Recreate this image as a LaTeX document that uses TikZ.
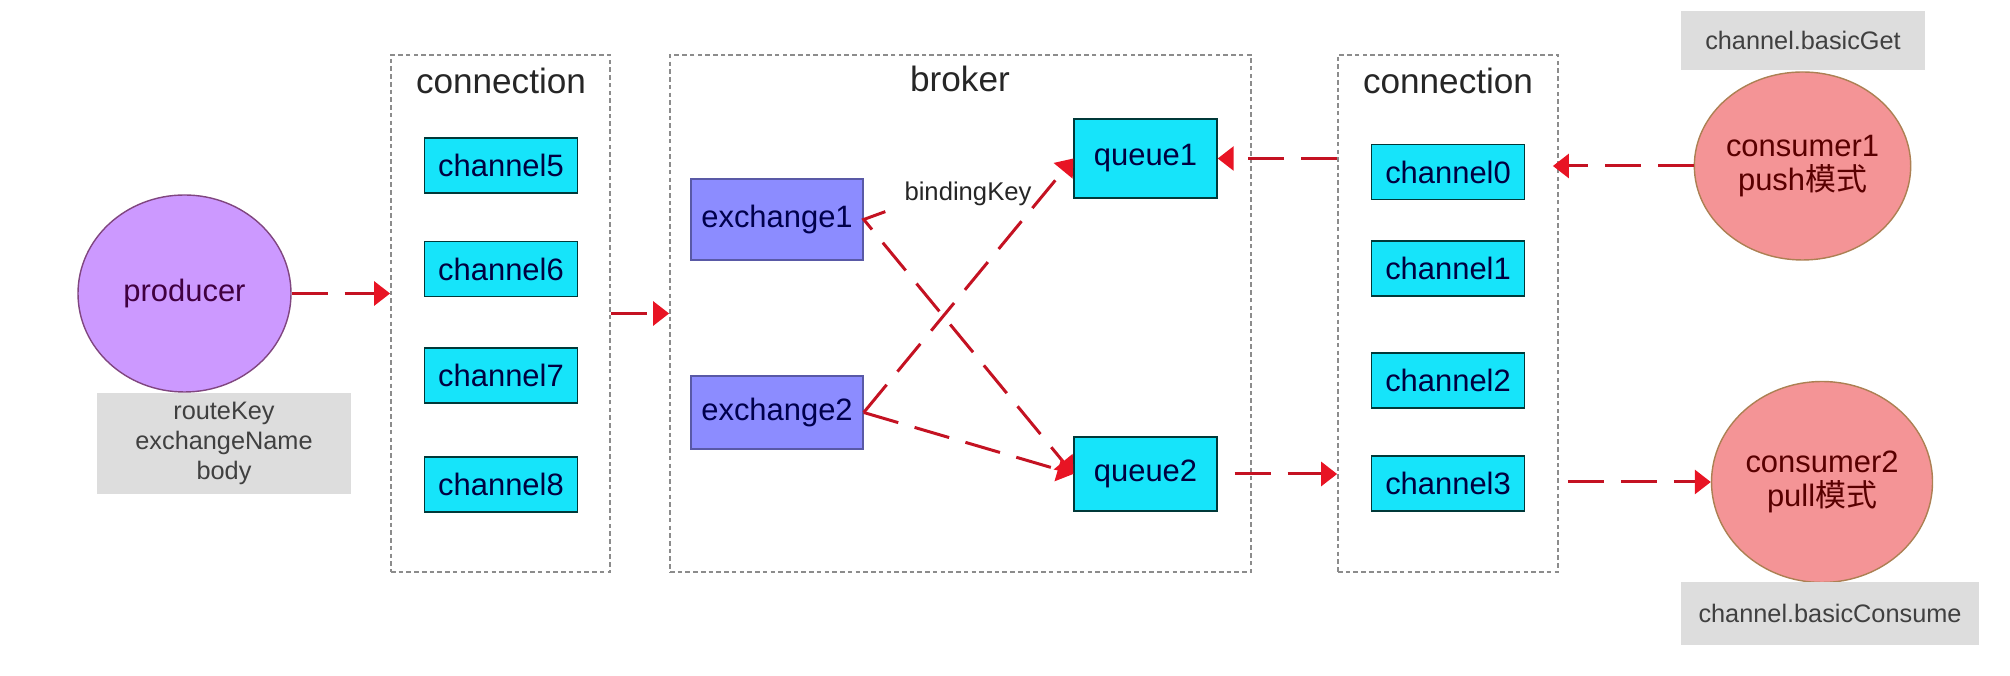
\documentclass[tikz,border=0pt]{standalone}
\definecolor{chancyan}{RGB}{22, 228, 250}
\definecolor{exblue}{RGB}{140, 140, 255}
\definecolor{prodpurple}{RGB}{204, 153, 255}
\definecolor{conspink}{RGB}{244, 148, 150}
\definecolor{flowred}{RGB}{196, 18, 34}
\definecolor{tipred}{RGB}{232, 20, 36}
\definecolor{notegray}{RGB}{221, 221, 221}
\usepackage{fontspec}
\setmainfont{Liberation Sans}
\newfontfamily\cjk{Noto Sans CJK SC}
\usepackage{tikz}
\usetikzlibrary{shapes.geometric, arrows.meta, positioning, calc}

\begin{document}
\begin{tikzpicture}[
  groupbox/.style={draw=black!45, dash pattern=on 1.3pt off 0.9pt, line width=0.5pt, inner sep=0pt, minimum height=5.17cm},
  grouptitle/.style={font=\fontsize{10}{12}\selectfont, text=black!85},
  chanbox/.style={draw=teal!45!black, fill=chancyan, minimum width=1.53cm, minimum height=0.55cm, inner sep=0pt, font=\fontsize{8.8}{10}\selectfont, text=black!75!blue},
  exbox/.style={draw=blue!30!gray, fill=exblue, minimum width=1.72cm, inner sep=0pt, font=\fontsize{8.8}{10}\selectfont, text=blue!30!black},
  notebox/.style={fill=notegray, inner sep=0pt, align=center, text=black!75},
  flow/.style={draw=flowred, line width=0.85pt, dash pattern=on 0.36cm off 0.17cm, -{Triangle[length=1.6mm, width=2.4mm, color=tipred]}}
]
  \useasboundingbox (0, 0) rectangle (20.1, 6.76);

  % Producer side
  \node[ellipse, draw=violet!45!gray, fill=prodpurple, minimum width=2.13cm, minimum height=1.97cm, inner sep=0pt, font=\fontsize{8.8}{10}\selectfont, text=violet!50!black] (producer) at (1.845, 3.825) {producer};
  \node[notebox, minimum width=2.54cm, minimum height=1.01cm, font=\fontsize{7.2}{8.5}\selectfont] (prodnote) at (2.24, 2.325) {routeKey\\exchangeName\\body};

  % Producer connection
  \node[groupbox, minimum width=2.19cm] (conn1) at (5.005, 3.625) {};
  \node[grouptitle] (conn1title) at (5.01, 5.95) {connection};
  \node[chanbox] (channel5) at (5.01, 5.105) {channel5};
  \node[chanbox] (channel6) at (5.01, 4.07) {channel6};
  \node[chanbox] (channel7) at (5.01, 3.005) {channel7};
  \node[chanbox] (channel8) at (5.01, 1.915) {channel8};

  % Broker
  \node[groupbox, minimum width=5.81cm] (broker) at (9.605, 3.625) {};
  \node[grouptitle] (brokertitle) at (9.6, 5.97) {broker};
  \node[exbox, minimum height=0.81cm] (exchange1) at (7.77, 4.565) {exchange1};
  \node[exbox, minimum height=0.73cm] (exchange2) at (7.77, 2.635) {exchange2};
  \node[chanbox, minimum width=1.43cm, minimum height=0.79cm] (queue1) at (11.455, 5.175) {queue1};
  \node[chanbox, minimum width=1.43cm, minimum height=0.74cm] (queue2) at (11.455, 2.02) {queue2};
  \node[font=\fontsize{7.3}{9}\selectfont, text=black!85] (bindkey) at (9.68, 4.82) {bindingKey};

  % Consumer connection
  \node[groupbox, minimum width=2.2cm] (conn2) at (14.48, 3.625) {};
  \node[grouptitle] (conn2title) at (14.48, 5.95) {connection};
  \node[chanbox] (channel0) at (14.48, 5.04) {channel0};
  \node[chanbox] (channel1) at (14.48, 4.075) {channel1};
  \node[chanbox] (channel2) at (14.48, 2.955) {channel2};
  \node[chanbox] (channel3) at (14.48, 1.925) {channel3};

  % Consumers
  \node[ellipse, draw=brown!70!gray, fill=conspink, minimum width=1.95cm, minimum height=1.88cm, inner sep=0pt, align=center, font=\fontsize{8.8}{9.8}\selectfont, text=red!35!black] (consumer1) at (18.025, 5.1) {consumer1\\push{\cjk 模式}};
  \node[ellipse, draw=brown!70!gray, fill=conspink, minimum width=2.21cm, minimum height=2.01cm, inner sep=0pt, align=center, font=\fontsize{8.8}{9.8}\selectfont, text=red!35!black] (consumer2) at (18.22, 1.94) {consumer2\\pull{\cjk 模式}};
  \node[notebox, minimum width=2.44cm, minimum height=0.59cm, font=\fontsize{7.2}{8.5}\selectfont] (getnote) at (18.03, 6.355) {channel.basicGet};
  \node[notebox, minimum width=2.98cm, minimum height=0.63cm, font=\fontsize{7.2}{8.5}\selectfont] (consumenote) at (18.3, 0.625) {channel.basicConsume};

  % Message flow
  \draw[flow] (producer.east) -- (producer.east -| conn1.west);
  \draw[flow] (conn1.east) -- (broker.west);
  \draw[flow] ($(exchange1.east)+(20:0.23)$) -- (exchange1.east) -- (queue2.west);
  \draw[flow] (exchange2.east) -- (queue1.west);
  \draw[flow] (exchange2.east) -- (queue2.west);
  \draw[flow] (queue1.east -| conn2.west) -- (queue1.east);
  \draw[flow, shorten <=0.17cm] (queue2.east) -- (queue2.east -| conn2.west);
  \draw[flow, shorten >=-0.06cm] (consumer1.west) -- (consumer1.west -| conn2.east);
  \draw[flow, shorten <=0.09cm] (conn2.east |- consumer2.west) -- (consumer2.west);
\end{tikzpicture}
\end{document}
